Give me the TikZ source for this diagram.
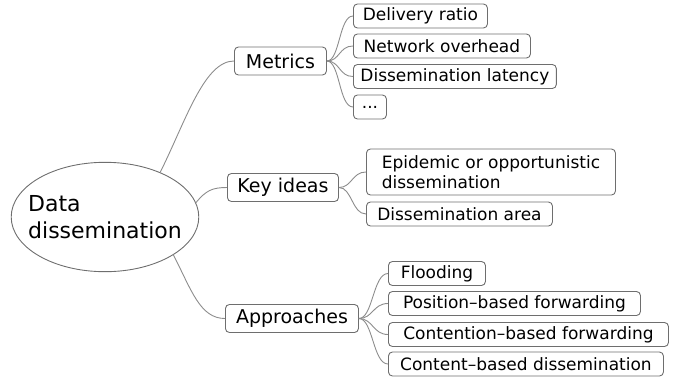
\documentclass[tikz,border=0pt]{standalone}
\usepackage{fontspec}
\setmainfont{DejaVu Sans}
\usepackage{xcolor}
\usepackage{tikz}
\usetikzlibrary{shapes.geometric}
\definecolor{edgegray}{HTML}{8C8C8C}
\definecolor{boxgray}{HTML}{6E6E6E}
\tikzstyle{link} = [draw, edgegray, line width=0.9pt]
\tikzstyle{topic} = [ellipse, draw=boxgray, line width=0.9pt, align=left,
    inner xsep=-10.5pt, inner ysep=17pt,
    font=\fontsize{22}{27}\selectfont]
\tikzstyle{branch} = [rectangle, draw=boxgray, line width=0.9pt, rounded corners=4pt,
    anchor=west, inner xsep=10pt, inner ysep=0pt, minimum height=28pt,
    font=\fontsize{19}{22}\selectfont]
\tikzstyle{leaf} = [rectangle, draw=boxgray, line width=0.9pt, rounded corners=4pt,
    anchor=west, inner xsep=7pt, inner ysep=2pt, minimum height=24pt, align=left,
    font=\fontsize{17}{20}\selectfont]

\begin{document}
\begin{tikzpicture}[x=1pt, y=-1pt]
      \useasboundingbox (0,0) rectangle (682,381);
      % Place root and branch nodes
      \node [topic] (root) at (105,217) {Data\\dissemination};
      \node [branch, minimum width=92pt] (metrics) at (234,61) {Metrics};
      \node [branch, minimum width=111pt] (keyideas) at (227,187.5) {Key ideas};
      \node [branch, minimum width=133pt] (approaches) at (225,318.5) {Approaches};
      % Place metric leaves
      \node [leaf, minimum width=134pt] (delivery) at (353,16) {Delivery ratio};
      \node [leaf, minimum width=177pt] (overhead) at (353,46) {Network overhead};
      \node [leaf, minimum width=202pt] (latency) at (353,76.5) {Dissemination latency};
      \node [leaf, minimum width=33pt] (more) at (353,107) {...};
      % Place key idea leaves
      \node [leaf, minimum width=249pt, minimum height=46pt] (epidemic) at (366,172) {Epidemic or opportunistic\\dissemination};
      \node [leaf, minimum width=186pt] (area) at (366,214) {Dissemination area};
      % Place approach leaves
      \node [leaf, minimum width=97pt] (flooding) at (388,273.5) {Flooding};
      \node [leaf, minimum width=252pt] (position) at (388,303.5) {Position--based forwarding};
      \node [leaf, minimum width=280pt] (contention) at (388,334.5) {Contention--based forwarding};
      \node [leaf, minimum width=275pt] (content) at (388,364) {Content--based dissemination};
      % Draw root edges
      \path [link] (root.39) .. controls +(25,-50) and +(-30,0) .. (metrics.west);
      \path [link] (root.9) .. controls +(10,-12) and +(-15,0) .. (keyideas.west);
      \path [link] (root.-29) .. controls +(18,35) and +(-25,0) .. (approaches.west);
      % Draw leaf edges
      \foreach \leafname in {delivery, overhead, latency, more}
        \path [link] (metrics.east) .. controls +(13,0) and +(-14,0) .. (\leafname.west);
      \foreach \leafname in {epidemic, area}
        \path [link] (keyideas.east) .. controls +(13,0) and +(-14,0) .. (\leafname.west);
      \foreach \leafname in {flooding, position, contention, content}
        \path [link] (approaches.east) .. controls +(14,0) and +(-15,0) .. (\leafname.west);
  \end{tikzpicture}
\end{document}
